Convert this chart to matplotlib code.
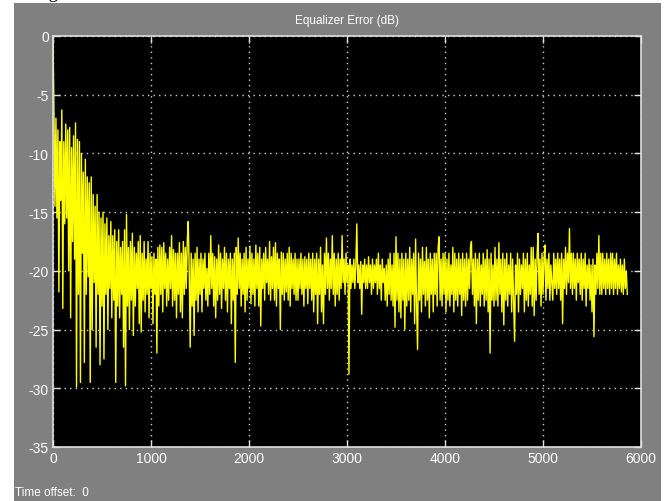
import matplotlib
matplotlib.use("Agg")
import matplotlib.pyplot as plt
import numpy as np
from matplotlib.patches import Rectangle

plt.rcParams["font.family"] = ["Liberation Sans Narrow", "Liberation Sans", "DejaVu Sans"]
plt.rcParams["axes.unicode_minus"] = False

# Equalizer error in dB, one value every sample_step samples
sample_step = 10
error_db = [
    # 0 - 490
    0.0, -6.7, -14.5, -7.0, -15.5, -8.0, -21.8, -9.0, -14.0, -6.3,
    -23.2, -9.0, -16.0, -7.5, -15.5, -8.0, -20.0, -7.8, -24.0, -9.5,
    -17.5, -8.5, -19.0, -7.4, -29.9, -8.8, -22.0, -9.0, -29.5, -10.0,
    -18.5, -11.6, -27.8, -10.5, -22.0, -12.0, -20.5, -12.5, -29.5, -12.0,
    -25.0, -13.5, -21.0, -14.5, -26.5, -13.5, -22.0, -15.0, -28.0, -15.5,
    # 500 - 990
    -23.0, -15.0, -27.5, -16.0, -22.0, -15.5, -25.0, -17.0, -21.5, -15.8,
    -24.0, -17.0, -22.5, -16.5, -29.5, -17.5, -23.0, -16.5, -24.0, -18.0,
    -22.0, -17.5, -26.5, -16.5, -29.8, -15.2, -23.0, -18.0, -25.0, -17.5,
    -22.5, -16.8, -25.5, -18.0, -23.0, -18.5, -21.5, -17.5, -24.5, -17.0,
    -25.2, -18.5, -22.5, -17.5, -23.5, -19.0, -22.0, -17.5, -24.0, -18.5,
    # 1000 - 1490
    -21.5, -18.8, -24.5, -18.5, -22.0, -19.0, -27.0, -18.0, -23.0, -17.8,
    -22.0, -18.0, -23.5, -17.6, -21.5, -18.5, -23.0, -19.0, -22.5, -18.0,
    -21.5, -17.0, -23.0, -18.2, -22.5, -18.5, -24.0, -18.5, -22.0, -17.6,
    -23.5, -18.5, -24.0, -17.5, -22.0, -18.0, -21.5, -17.5, -15.8, -20.0,
    -26.5, -18.5, -23.0, -19.0, -25.5, -18.5, -22.5, -18.0, -23.5, -19.0,
    # 1500 - 1990
    -22.0, -18.5, -23.5, -19.0, -21.5, -18.5, -22.5, -19.8, -23.0, -18.5,
    -22.0, -17.0, -21.5, -18.5, -23.0, -18.8, -24.0, -19.0, -22.5, -17.8,
    -22.0, -18.5, -23.2, -19.0, -21.5, -18.0, -22.5, -18.5, -23.5, -19.0,
    -21.5, -18.5, -24.5, -19.0, -22.5, -18.5, -27.8, -18.0, -22.0, -17.2,
    -21.5, -18.5, -23.0, -19.0, -22.0, -18.5, -23.5, -18.0, -22.5, -19.0,
    # 2000 - 2490
    -21.5, -17.9, -22.8, -18.5, -22.0, -19.0, -23.0, -17.8, -21.5, -18.5,
    -23.0, -18.0, -24.7, -19.0, -21.5, -18.5, -22.5, -18.0, -21.0, -19.0,
    -22.0, -17.5, -22.5, -18.8, -21.5, -18.0, -22.5, -17.6, -23.0, -18.5,
    -21.5, -19.0, -25.0, -18.4, -22.0, -18.5, -22.5, -19.0, -21.8, -18.5,
    -22.5, -18.0, -23.0, -18.5, -21.5, -19.0, -22.0, -18.5, -22.5, -19.0,
    # 2500 - 2990
    -22.5, -19.0, -21.5, -18.5, -22.0, -19.0, -23.0, -18.8, -21.5, -19.0,
    -22.8, -18.5, -21.5, -19.0, -22.5, -18.5, -23.5, -19.0, -22.0, -18.5,
    -24.5, -19.0, -22.0, -18.0, -23.5, -19.5, -24.5, -18.5, -22.0, -17.2,
    -21.5, -18.5, -22.5, -19.0, -21.5, -17.0, -22.0, -18.5, -23.0, -19.0,
    -22.0, -18.5, -22.5, -19.0, -21.5, -17.0, -21.0, -19.0, -22.0, -18.5,
    # 3000 - 3490
    -21.0, -19.5, -28.8, -19.0, -21.5, -19.5, -21.0, -19.0, -21.5, -19.5,
    -16.0, -21.0, -19.5, -21.5, -19.2, -23.7, -19.5, -21.0, -19.0, -21.5,
    -19.5, -21.5, -18.8, -21.0, -19.5, -22.0, -19.0, -21.5, -19.5, -21.0,
    -19.0, -22.0, -18.5, -21.5, -19.5, -22.5, -19.0, -21.0, -19.8, -22.5,
    -19.5, -23.0, -19.0, -22.0, -18.5, -22.5, -19.5, -23.0, -18.5, -24.8,
    # 3500 - 3990
    -17.1, -22.5, -18.5, -23.5, -19.0, -24.0, -18.5, -22.5, -19.0, -25.0,
    -18.5, -23.0, -19.0, -22.5, -18.0, -23.5, -19.0, -22.0, -18.5, -24.5,
    -17.3, -23.0, -26.7, -18.5, -22.5, -19.0, -23.5, -18.0, -22.0, -19.2,
    -23.0, -18.0, -22.5, -19.0, -24.0, -18.5, -22.0, -19.0, -23.5, -18.5,
    -22.0, -18.5, -23.0, -18.0, -17.1, -22.5, -19.0, -23.0, -18.5, -22.0,
    # 4000 - 4490
    -18.5, -23.5, -19.0, -22.5, -18.5, -23.0, -19.5, -22.0, -18.0, -23.5,
    -18.5, -22.5, -19.0, -23.0, -18.5, -22.0, -19.0, -23.8, -18.5, -22.5,
    -19.0, -23.0, -18.5, -22.5, -19.0, -21.5, -18.0, -17.5, -22.0, -19.0,
    -23.0, -18.5, -24.5, -19.0, -22.5, -18.5, -23.0, -19.5, -22.0, -18.5,
    -23.0, -19.0, -22.5, -18.2, -23.5, -19.0, -27.0, -18.5, -22.5, -19.5,
    # 4500 - 4990
    -23.0, -18.0, -22.5, -19.0, -23.0, -17.6, -22.0, -19.0, -23.5, -18.5,
    -24.6, -19.0, -22.5, -18.5, -23.0, -19.5, -22.0, -18.5, -23.5, -19.0,
    -22.5, -26.0, -19.5, -22.0, -18.5, -23.5, -19.0, -22.0, -19.5, -21.5,
    -18.5, -23.5, -19.0, -22.5, -18.5, -23.0, -19.5, -22.0, -18.0, -23.0,
    -18.0, -23.8, -19.0, -22.5, -18.5, -16.8, -22.0, -19.0, -23.0, -18.5,
    # 5000 - 5490
    -22.0, -19.0, -17.8, -22.5, -19.0, -21.5, -18.5, -22.5, -19.5, -21.0,
    -22.5, -18.5, -21.5, -19.0, -22.0, -18.5, -21.5, -19.0, -22.5, -18.5,
    -24.5, -19.0, -21.5, -18.0, -22.0, -18.5, -21.0, -16.4, -21.5, -18.5,
    -22.0, -18.5, -21.5, -19.0, -22.5, -18.5, -21.0, -19.0, -22.0, -18.5,
    -22.5, -19.0, -21.5, -18.5, -23.0, -19.5, -21.5, -19.0, -22.5, -19.5,
    # 5500 - 5860
    -23.5, -19.0, -25.6, -19.5, -22.0, -18.5, -21.5, -17.0, -22.0, -18.5,
    -22.0, -18.5, -21.5, -19.0, -22.0, -18.5, -21.5, -19.0, -22.0, -18.5,
    -21.5, -18.5, -22.0, -19.0, -21.5, -18.5, -22.0, -19.5, -21.5, -19.0,
    -21.8, -19.5, -22.0, -19.0, -21.5, -20.0, -22.0,
]
x_ticks = [0, 1000, 2000, 3000, 4000, 5000, 6000]
y_ticks = [0, -5, -10, -15, -20, -25, -30, -35]
title = "Equalizer Error (dB)"
footer = "Time offset:  0"

samples = np.arange(len(error_db)) * sample_step

fig = plt.figure(figsize=(6.66, 5.02), dpi=100, facecolor="white")
panel = Rectangle((14 / 666, 0), 647 / 666, 498 / 502, transform=fig.transFigure,
                  facecolor="#808080", edgecolor="none", zorder=-10)
fig.add_artist(panel)
fig.text(35 / 666, 1.0 + 2 / 502, "Fig", family="Liberation Serif", fontsize=13,
         color="black", va="baseline")

ax = fig.add_axes([53 / 666, 1 - 448 / 502, 588 / 666, 411 / 502])
ax.set_facecolor("black")
ax.plot(samples, error_db, color="#ffff00", lw=1.0)

ax.set_xlim(0, 6000)
ax.set_ylim(-35, 0)
ax.set_xticks(x_ticks)
ax.set_yticks(y_ticks)
ax.grid(True, color="#d0d0d0", linestyle=(0, (1, 3)), lw=1.0)
ax.tick_params(direction="in", length=5, width=1, color="#e0e0e0", labelcolor="white",
               labelsize=10, top=True, right=True, pad=3)
for sp in ax.spines.values():
    sp.set_color("#e0e0e0")
    sp.set_linewidth(1.2)
ax.set_title(title, color="white", fontsize=8.5, pad=9)

fig.text(15 / 666, 1 - 493 / 502, footer, color="white", fontsize=8.5, va="center")

fig.savefig("out.png", dpi=100, facecolor=fig.get_facecolor())
